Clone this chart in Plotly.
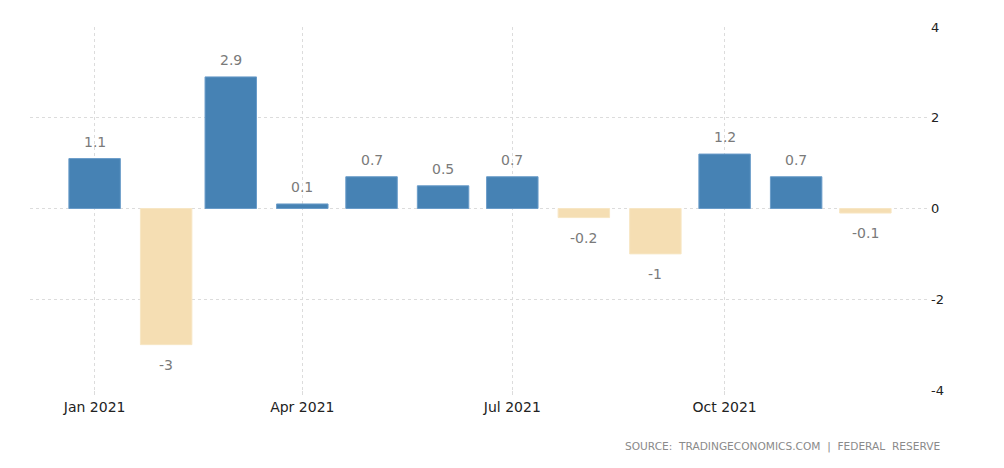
import plotly.graph_objects as go

months = ["2021-01-01", "2021-02-01", "2021-03-01", "2021-04-01", "2021-05-01", "2021-06-01",
          "2021-07-01", "2021-08-01", "2021-09-01", "2021-10-01", "2021-11-01", "2021-12-01"]
values = [1.1, -3, 2.9, 0.1, 0.7, 0.5, 0.7, -0.2, -1, 1.2, 0.7, -0.1]
labels = ["1.1", "-3", "2.9", "0.1", "0.7", "0.5", "0.7", "-0.2", "-1", "1.2", "0.7", "-0.1"]
tick_dates = ["2021-01-01", "2021-04-01", "2021-07-01", "2021-10-01"]
tick_text = ["Jan 2021", "Apr 2021", "Jul 2021", "Oct 2021"]
y_ticks = [-4, -2, 0, 2, 4]

POS = "#4682B4"
NEG = "#F5DEB3"
colors = [POS if v >= 0 else NEG for v in values]
line_colors = ["#6a9cc9" if v >= 0 else "#f7e6c4" for v in values]

day_ms = 86400000
fig = go.Figure(go.Bar(
    x=months, y=values,
    marker=dict(color=colors, line=dict(color=line_colors, width=1)),
    width=[22.3 * day_ms] * len(values),
    hoverinfo="x+y",
))

annotations = []
for m, v, t in zip(months, values, labels):
    annotations.append(dict(
        x=m, y=v, text=t, xref="x", yref="y", showarrow=False,
        yanchor="middle", xanchor="center",
        yshift=17 if v >= 0 else -20,
        font=dict(family="DejaVu Sans", size=14, color="#7a7a7a"),
    ))
annotations.append(dict(
    text="SOURCE:  TRADINGECONOMICS.COM  |  FEDERAL  RESERVE",
    xref="paper", yref="paper", x=1.013, y=-0.155,
    xanchor="right", yanchor="middle", showarrow=False,
    font=dict(family="DejaVu Sans", size=10.6, color="#8a8a8a"),
))

fig.update_layout(
    width=1004, height=468,
    margin=dict(l=30, r=74, t=27, b=78, autoexpand=False),
    paper_bgcolor="white", plot_bgcolor="white",
    showlegend=False,
    xaxis=dict(
        type="date", range=["2020-12-04", "2021-12-29"],
        tickvals=tick_dates, ticktext=tick_text,
        showgrid=True, gridcolor="#dcdcdc", griddash="dot", gridwidth=1,
        ticks="outside", ticklen=4, tickcolor="#dcdcdc",
        showline=False, zeroline=False, automargin=False,
        tickfont=dict(family="DejaVu Sans", size=14, color="#222222"),
    ),
    yaxis=dict(
        side="right", range=[-4, 4], tickvals=y_ticks,
        ticktext=[str(v) for v in y_ticks],
        showgrid=True, gridcolor="#dcdcdc", griddash="dot", gridwidth=1,
        zeroline=False, ticks="", showline=False, automargin=False,
        tickfont=dict(family="DejaVu Sans", size=13, color="#222222"),
    ),
    annotations=annotations,
)

fig.write_html("out.html", config={"displayModeBar": False},
               post_script="document.body.style.margin='0';")
